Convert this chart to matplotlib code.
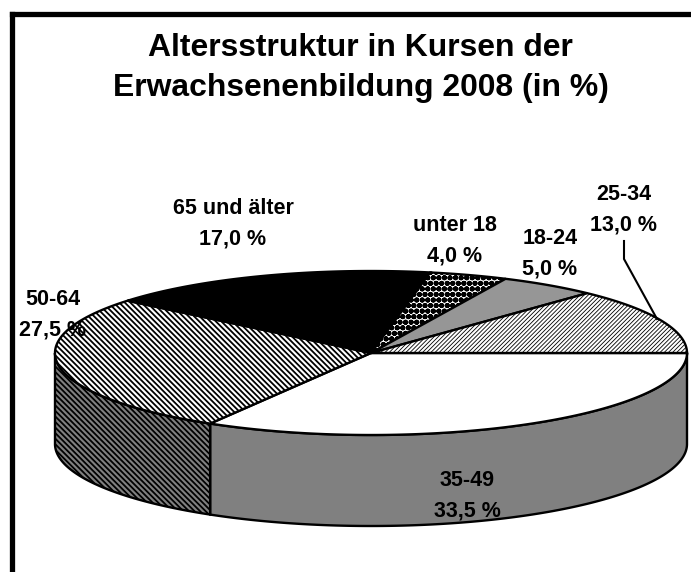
import numpy as np
import matplotlib
matplotlib.use('Agg')
import matplotlib.pyplot as plt

plt.rcParams['font.family'] = ['Liberation Sans', 'DejaVu Sans']
plt.rcParams['hatch.linewidth'] = 1.3

# data, clockwise from 3 o'clock
groups = ['35-49', '50-64', '65 und älter', 'unter 18', '18-24', '25-34']
shares = [33.5, 27.5, 17.0, 4.0, 5.0, 13.0]
share_labels = ['33,5 %', '27,5 %', '17,0 %', '4,0 %', '5,0 %', '13,0 %']
title = 'Altersstruktur in Kursen der\nErwachsenenbildung 2008 (in %)'

# pie geometry in pixels
cx, cy = 371, 353
rx, ry = 316, 82
depth = 91

top_style = [
    dict(facecolor='white'),
    dict(facecolor='white', hatch='\\' * 6),
    dict(facecolor='black'),
    dict(facecolor='white', hatch='o' * 3, hatch_linewidth=2.0),
    dict(facecolor='#969696'),
    dict(facecolor='white', hatch='/' * 8, hatch_linewidth=0.6),
]
wall_style = [
    dict(facecolor='#808080'),
    dict(facecolor='#808080', hatch='\\' * 6),
]
label_pos = [(467, 496), (53, 315), (233, 224), (455, 241), (550, 254), (624, 210)]


def arc(a0, a1):
    t = np.radians(np.linspace(a0, a1, 200))
    return cx + rx * np.cos(t), cy + ry * np.sin(t)


fig = plt.figure(figsize=(6.91, 5.72), dpi=100)
ax = fig.add_axes([0, 0, 1, 1])
ax.set_xlim(0, 691)
ax.set_ylim(572, 0)
ax.axis('off')

# frame: only top and left are visible
ax.plot([12.5, 12.5], [572, 13.5], color='black', lw=3.8, solid_joinstyle='miter')
ax.plot([12.5, 691], [13.5, 13.5], color='black', lw=3.8, solid_joinstyle='miter')

edges = np.cumsum([0] + shares) / sum(shares) * 360

# side wall (only the front half shows)
for i, style in enumerate(wall_style):
    a0, a1 = edges[i], min(edges[i + 1], 180)
    x, y = arc(a0, a1)
    xs = np.r_[x, x[::-1]]
    ys = np.r_[y, y[::-1] + depth]
    ax.fill(xs, ys, edgecolor='black', lw=1.7, zorder=2, **style)

# top face
for i, style in enumerate(top_style):
    x, y = arc(edges[i], edges[i + 1])
    xs = np.r_[cx, x, cx]
    ys = np.r_[cy, y, cy]
    ax.fill(xs, ys, edgecolor='black', lw=1.7, zorder=3, **style)

# leader line for 25-34
ax.plot([624, 624, 657], [241, 259, 319], color='black', lw=1.5, zorder=4)

for g, s, (lx, ly) in zip(groups, share_labels, label_pos):
    ax.text(lx, ly, g + '\n' + s, ha='center', va='center', fontsize=15.5,
            fontweight='bold', linespacing=1.62, zorder=5)

ax.text(360.5, 68, title, ha='center', va='center', fontsize=22.95,
        fontweight='bold', linespacing=1.42, zorder=5)

fig.savefig('out.png', dpi=100)
